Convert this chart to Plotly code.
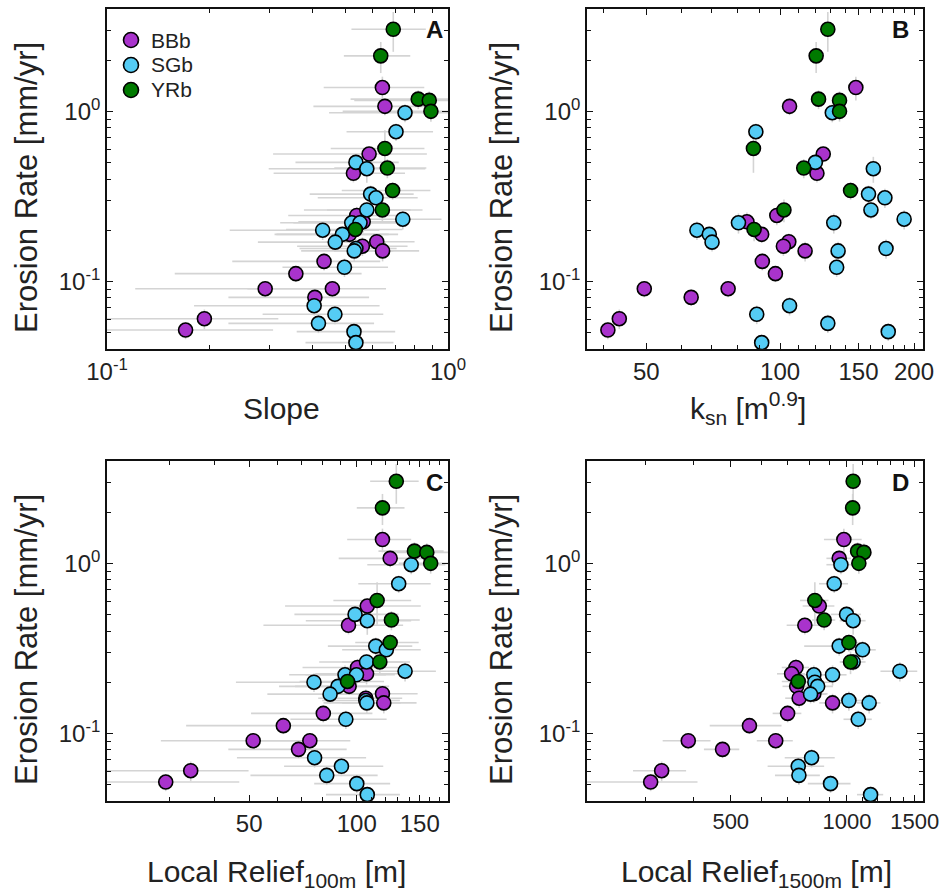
import math
import plotly.graph_objects as go

# ---------------- data ----------------
groups = ["BBb", "SGb", "YRb"]
colors = {"BBb": "#A933CC", "SGb": "#55CCF5", "YRb": "#007A00"}

# erosion rate [mm/yr] and its uncertainty
E = {
    "BBb": [1.38, 1.07, 0.561, 0.432, 0.244, 0.224, 0.189, 0.171, 0.161, 0.151, 0.131, 0.111, 0.0905, 0.0905, 0.0805, 0.0603, 0.0517],
    "SGb": [0.982, 0.759, 0.501, 0.46, 0.326, 0.31, 0.263, 0.232, 0.221, 0.221, 0.200, 0.189, 0.170, 0.156, 0.151, 0.121, 0.0719, 0.064, 0.0566, 0.0506, 0.0436],
    "YRb": [3.04, 2.12, 1.18, 1.16, 1.00, 0.605, 0.464, 0.342, 0.263, 0.202],
}
E_err = {
    "BBb": [0.22, 0.12, 0.06, 0.05, 0.03, 0.03, 0.02, 0.02, 0.02, 0.02, 0.015, 0.012, 0.01, 0.01, 0.009, 0.008, 0.006],
    "SGb": [0.12, 0.09, 0.06, 0.08, 0.04, 0.04, 0.03, 0.03, 0.03, 0.03, 0.025, 0.02, 0.02, 0.02, 0.02, 0.015, 0.009, 0.008, 0.007, 0.006, 0.005],
    "YRb": [0.8, 0.44, 0.15, 0.15, 0.13, 0.17, 0.06, 0.04, 0.04, 0.03],
}

slope = {
    "BBb": [0.642, 0.653, 0.587, 0.528, 0.540, 0.564, 0.514, 0.618, 0.561, 0.643, 0.433, 0.358, 0.291, 0.458, 0.407, 0.193, 0.170],
    "SGb": [0.748, 0.704, 0.537, 0.578, 0.593, 0.615, 0.578, 0.737, 0.522, 0.552, 0.429, 0.490, 0.467, 0.537, 0.531, 0.497, 0.405, 0.466, 0.417, 0.530, 0.537],
    "YRb": [0.691, 0.635, 0.818, 0.881, 0.891, 0.653, 0.664, 0.688, 0.642, 0.535],
}
slope_err = {
    "BBb": [0.21, 0.25, 0.28, 0.22, 0.2, 0.2, 0.2, 0.18, 0.2, 0.18, 0.2, 0.2, 0.17, 0.2, 0.18, 0.125, 0.137],
    "SGb": [0.3, 0.2, 0.18, 0.28, 0.2, 0.2, 0.2, 0.22, 0.2, 0.2, 0.2, 0.18, 0.19, 0.17, 0.16, 0.17, 0.225, 0.18, 0.19, 0.17, 0.155],
    "YRb": [0.17, 0.14, 0.3, 0.35, 0.4, 0.2, 0.2, 0.2, 0.2, 0.2],
}

ksn = {
    "BBb": [148, 105, 125, 121, 98.3, 84.2, 90.9, 104.6, 101.7, 113.8, 91.2, 97.6, 49.5, 76.4, 63.1, 43.5, 41.0],
    "SGb": [131, 88.2, 120, 162, 158, 172, 160, 190, 80.6, 132, 65.0, 69.3, 70.3, 173, 135, 134, 105, 88.6, 128, 175, 90.9],
    "YRb": [128, 120.5, 122, 136, 136, 87.1, 113, 144, 102, 87.4],
}

relief100 = {
    "BBb": [118, 124, 107, 94.8, 100.5, 106.5, 95.2, 118, 106, 119, 80.6, 62.3, 51.3, 73.9, 68.7, 34.3, 29.2],
    "SGb": [142, 131, 98.9, 107, 113, 121, 106.5, 136.5, 92.7, 99.8, 75.9, 88.6, 84.2, 106, 106.7, 93.2, 76.2, 90.6, 82.4, 100, 107],
    "YRb": [129, 118, 145, 157, 161, 114, 125, 124, 116, 94.2],
}
relief100_err = {
    "BBb": [24, 35, 44, 40, 30, 30, 28, 30, 28, 28, 30, 29, 23, 22, 25, 15.5, 17.7],
    "SGb": [35, 30, 32, 35, 30, 30, 28, 30, 28, 28, 30, 28, 28, 26, 26, 28, 30, 28, 32, 24, 25],
    "YRb": [20, 18, 30, 28, 30, 28, 25, 25, 25, 25],
}

relief1500 = {
    "BBb": [982, 955, 848, 778, 738, 719, 741, 821, 752, 918, 702, 559, 388, 654, 476, 331, 310],
    "SGb": [965, 927, 998, 1038, 955, 1098, 1038, 1372, 821, 918, 826, 840, 805, 1012, 1142, 1070, 810, 748, 751, 907, 1152],
    "YRb": [1038, 1035, 1066, 1107, 1074, 826, 873, 1012, 1022, 748],
}
relief1500_err = {
    "BBb": [110, 70, 80, 80, 60, 60, 60, 70, 60, 70, 60, 118, 55, 70, 50, 52, 100],
    "SGb": [80, 80, 90, 80, 180, 90, 80, 150, 80, 80, 80, 80, 80, 90, 80, 90, 120, 125, 100, 115, 90],
    "YRb": [30, 30, 40, 40, 40, 70, 60, 60, 60, 70],
}

y_ticks = [0.1, 1]
y_ticktext = ["10<sup>-1</sup>", "10<sup>0</sup>"]
y_minor = [0.05, 0.06, 0.07, 0.08, 0.09, 0.2, 0.3, 0.4, 0.5, 0.6, 0.7, 0.8, 0.9, 2, 3, 4]

panels = [
    dict(xa="x", ya="y", xv=slope, xe=slope_err, ticks=[0.1, 1], ticktext=["10<sup>-1</sup>", "10<sup>0</sup>"],
         minor=[0.2, 0.3, 0.4, 0.5, 0.6, 0.7, 0.8, 0.9], xrange=[0.1, 1.0], tfs=24),
    dict(xa="x2", ya="y2", xv=ksn, xe=None, ticks=[50, 100, 150, 200], ticktext=["50", "100", "150", "200"],
         minor=[40, 60, 70, 80, 90, 110, 120, 130, 140, 160, 170, 180, 190], xrange=[36.8, 209.5], tfs=24),
    dict(xa="x3", ya="y3", xv=relief100, xe=relief100_err, ticks=[50, 100, 150], ticktext=["50", "100", "150"],
         minor=[30, 40, 60, 70, 80, 90, 110, 120, 130, 140, 160, 170], xrange=[20, 180], tfs=24),
    dict(xa="x4", ya="y4", xv=relief1500, xe=relief1500_err, ticks=[500, 1000, 1500], ticktext=["500", "1000", "1500"],
         minor=[300, 400, 600, 700, 800, 900, 1100, 1200, 1300, 1400], xrange=[212, 1575], tfs=22),
]

FONT = "Liberation Sans, Arial, sans-serif"
TXT = "#222222"
ERRC = "#D4D4D4"
W, H = 939, 894

fig = go.Figure()

# error bars first (under all markers)
for p in panels:
    for g in groups:
        ex = dict(type="data", array=p["xe"][g], color=ERRC, thickness=1.6, width=0, visible=True) if p["xe"] else dict(visible=False)
        fig.add_trace(go.Scatter(
            x=p["xv"][g], y=E[g], xaxis=p["xa"], yaxis=p["ya"], mode="markers",
            marker=dict(size=2, opacity=0), error_x=ex,
            error_y=dict(type="data", array=E_err[g], color=ERRC, thickness=1.6, width=0),
            showlegend=False, hoverinfo="skip"))

# markers
for p in panels:
    for g in groups:
        fig.add_trace(go.Scatter(
            x=p["xv"][g], y=E[g], xaxis=p["xa"], yaxis=p["ya"], mode="markers", name=g,
            marker=dict(size=14, color=colors[g], line=dict(color="black", width=1.6)),
            showlegend=False))

xdom_l = [107 / W, 448 / W]
xdom_r = [587 / W, 923 / W]
ydom_t = [1 - 349 / H, 1 - 9 / H]
ydom_b = [1 - 801 / H, 1 - 461 / H]

axis_common = dict(type="log", showline=True, linecolor="#111", linewidth=1.6, mirror="allticks",
                   ticks="inside", ticklen=6, tickwidth=1.4, tickcolor="#111", showgrid=False, zeroline=False,
                   tickfont=dict(family=FONT, size=24, color=TXT), tickmode="array")

doms = {"x": (xdom_l, ydom_t), "x2": (xdom_r, ydom_t), "x3": (xdom_l, ydom_b), "x4": (xdom_r, ydom_b)}
for idx, p in enumerate(panels):
    n = "" if idx == 0 else str(idx + 1)
    xd, yd = doms[p["xa"]]
    fig.layout["xaxis" + n] = dict(axis_common, domain=xd, anchor="y" + n,
                                   range=[math.log10(p["xrange"][0]), math.log10(p["xrange"][1])],
                                   tickvals=p["ticks"], ticktext=p["ticktext"], ticklabeloverflow="allow",
                                   tickfont=dict(family=FONT, size=p["tfs"], color=TXT),
                                   minor=dict(tickmode="array", tickvals=p["minor"], ticks="inside", ticklen=4,
                                              tickwidth=1.2, tickcolor="#111", showgrid=False))
    fig.layout["yaxis" + n] = dict(axis_common, domain=yd, anchor="x" + n,
                                   range=[math.log10(0.04), math.log10(4)],
                                   tickvals=y_ticks, ticktext=y_ticktext,
                                   minor=dict(tickmode="array", tickvals=y_minor, ticks="inside", ticklen=4,
                                              tickwidth=1.2, tickcolor="#111", showgrid=False))

ann = []
shapes = []
letters = [("A", 434, 29), ("B", 900, 29), ("C", 434, 482), ("D", 900, 482)]
for t, px, py in letters:
    ann.append(dict(text="<b>%s</b>" % t, x=px / W, y=1 - py / H, xref="paper", yref="paper",
                    showarrow=False, font=dict(family=FONT, size=24, color="#111"), xanchor="center", yanchor="middle"))

ytitle = "Erosion Rate [mm/yr]"
for px, py in [(26, 188), (501, 188), (26, 640), (501, 640)]:
    ann.append(dict(text=ytitle, x=px / W, y=1 - py / H, xref="paper", yref="paper", textangle=-90,
                    showarrow=False, font=dict(family=FONT, size=31, color=TXT), xanchor="center", yanchor="middle"))

xtitles = [("Slope", 281, 408), ("k<sub>sn</sub> [m<sup>0.9</sup>]", 748, 408),
           ("Local Relief<sub>100m</sub> [m]", 276, 873), ("Local Relief<sub>1500m</sub> [m]", 756, 873)]
for t, px, py in xtitles:
    ann.append(dict(text=t, x=px / W, y=1 - py / H, xref="paper", yref="paper",
                    showarrow=False, font=dict(family=FONT, size=30, color=TXT), xanchor="center", yanchor="middle"))

# legend (panel A, top-left)
for k, g in enumerate(groups):
    cy = 40 + 25 * k
    shapes.append(dict(type="circle", xref="paper", yref="paper", xsizemode="pixel", ysizemode="pixel",
                       xanchor=131 / W, yanchor=1 - cy / H, x0=-7.5, x1=7.5, y0=-7.5, y1=7.5,
                       fillcolor=colors[g], line=dict(color="black", width=1.6)))
    ann.append(dict(text=g, x=149 / W, y=1 - cy / H, xref="paper", yref="paper", showarrow=False,
                    xanchor="left", yanchor="middle", font=dict(family=FONT, size=21, color=TXT)))

fig.update_layout(
    width=W, height=H, margin=dict(l=0, r=0, t=0, b=0, autoexpand=False),
    paper_bgcolor="white", plot_bgcolor="white",
    annotations=ann, shapes=shapes, showlegend=False,
)

fig.write_html("out.html")
